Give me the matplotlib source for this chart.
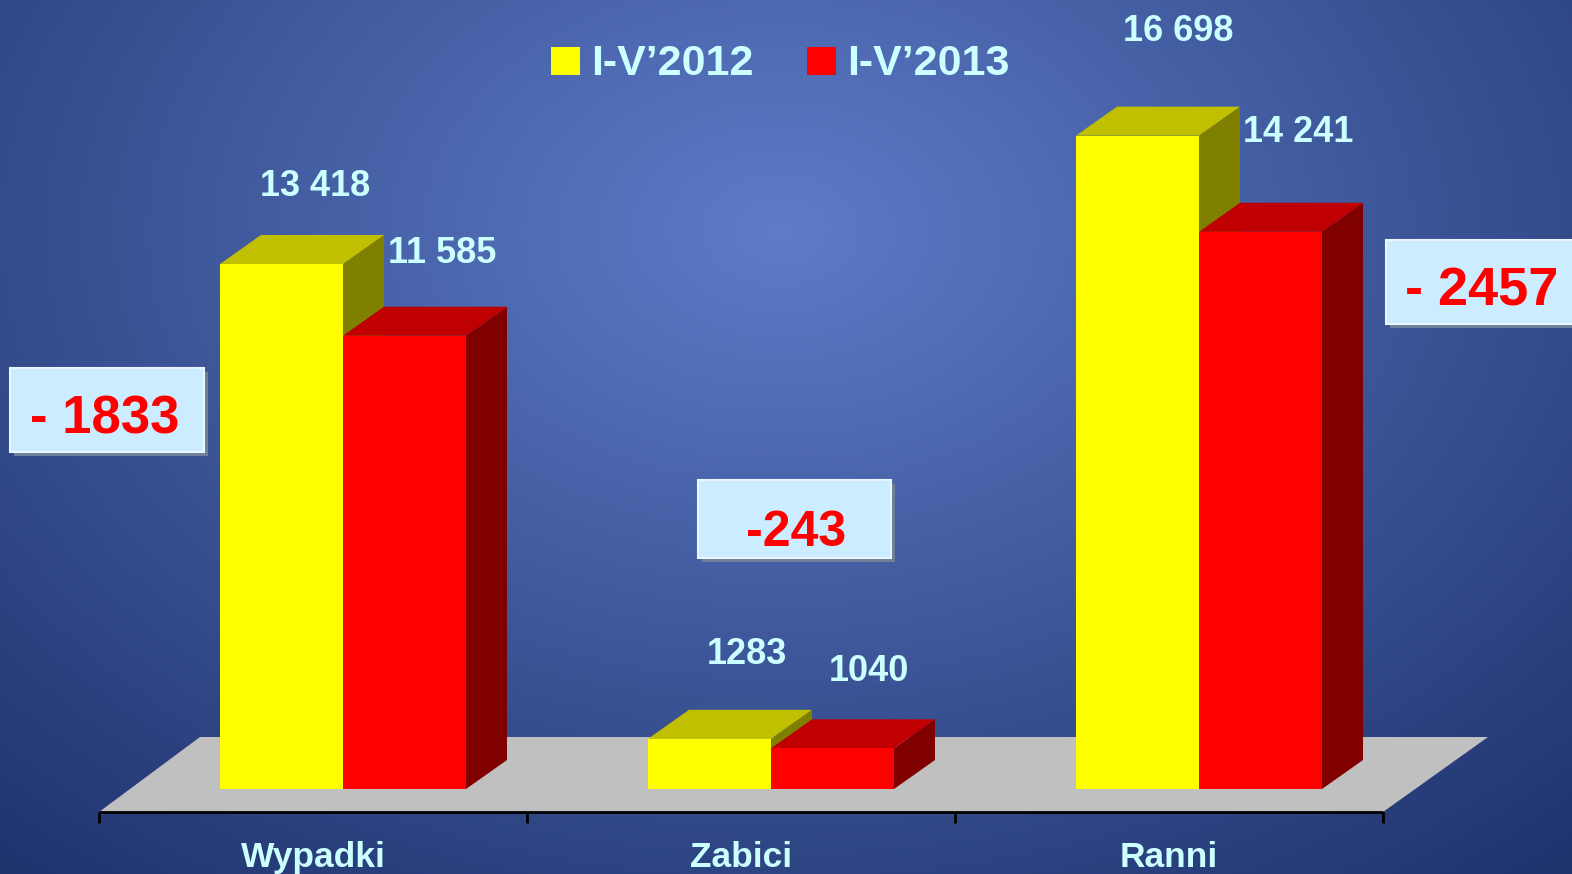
import numpy as np
import matplotlib
matplotlib.use("Agg")
import matplotlib.pyplot as plt
from matplotlib.patches import Polygon, Rectangle

# ---------------- data ----------------
categories = ["Wypadki", "Zabici", "Ranni"]
series_names = ["I-V\u20192012", "I-V\u20192013"]
values_2012 = [13418, 1283, 16698]
values_2013 = [11585, 1040, 14241]
labels_2012 = ["13 418", "1283", "16 698"]
labels_2013 = ["11 585", "1040", "14 241"]
diff_labels = ["- 1833", "-243", "- 2457"]

# ---------------- styling / geometry ----------------
W, H = 1572, 874
DPI = 100
PX_PER_UNIT = 0.039127          # vertical scale (pixels per value unit)
Y0_PX = 789                     # pixel row of value 0 (from top)
X0_PX, CAT_PX = 313, 428        # pixel x of category 0 and spacing

yel = dict(front="#FFFF00", top="#C0C000", side="#808000")
red = dict(front="#FF0000", top="#C00000", side="#800000")
label_col = "#CCFFFF"
FONT = "Liberation Sans"

fig = plt.figure(figsize=(W / DPI, H / DPI), dpi=DPI)
ax = fig.add_axes([0, 0, 1, 1])
ax.set_axis_off()

xlim = (-X0_PX / CAT_PX, (W - X0_PX) / CAT_PX)
ylim = (-(H - Y0_PX) / PX_PER_UNIT, Y0_PX / PX_PER_UNIT)

# background radial gradient
gx, gy = np.meshgrid(np.arange(W), np.arange(H))
t = np.sqrt(((gx - 780) / 1200.0) ** 2 + ((gy - 230) / 850.0) ** 2)
t = np.clip(t, 0, 1)[..., None]
c0 = np.array([94, 124, 200]) / 255.0
c1 = np.array([30, 50, 108]) / 255.0
img = c0 * (1 - t) + c1 * t
ax.imshow(img, extent=(0, 1, 0, 1), transform=ax.transAxes, aspect="auto",
          zorder=0, interpolation="bilinear")

ax.set_xlim(*xlim)
ax.set_ylim(*ylim)

# unit conversions for 3D offsets
def dxu(px):
    return px / CAT_PX

def dyu(px):
    return px / PX_PER_UNIT

# floor
floor_front = dyu(-23)
floor_back = dyu(52)
floor = Polygon([(-0.5, floor_front), (2.5, floor_front),
                 (2.5 + dxu(105), floor_back), (-0.5 + dxu(101), floor_back)],
                closed=True, facecolor="#C0C0C0", edgecolor="none", zorder=1)
ax.add_patch(floor)

# axis line with ticks
ax.plot([-0.5, 2.5], [floor_front, floor_front], color="black", lw=2,
        zorder=2, solid_capstyle="butt")
for tx in [-0.5, 0.5, 1.5, 2.5]:
    ax.plot([tx, tx], [floor_front, floor_front - dyu(11)], color="black",
            lw=2, zorder=2, solid_capstyle="butt")

# 3D bars
bw = dxu(123)
ddx, ddy = dxu(41), dyu(29)
shift = dxu(30)

def bar3d(x_left, h, cols, z):
    front = Rectangle((x_left, 0), bw, h, facecolor=cols["front"],
                      edgecolor="none", zorder=z)
    top = Polygon([(x_left, h), (x_left + bw, h), (x_left + bw + ddx, h + ddy),
                   (x_left + ddx, h + ddy)], closed=True,
                  facecolor=cols["top"], edgecolor="none", zorder=z)
    side = Polygon([(x_left + bw, 0), (x_left + bw + ddx, ddy),
                    (x_left + bw + ddx, h + ddy), (x_left + bw, h)], closed=True,
                   facecolor=cols["side"], edgecolor="none", zorder=z)
    for p in (side, top, front):
        ax.add_patch(p)

label_off_2012 = [(34, 68), (37, 75), (41, 95)]
label_off_2013 = [(38, 73), (36, 67), (38, 90)]

for i in range(len(categories)):
    xc = i + shift
    bar3d(xc - bw, values_2012[i], yel, 3 + i * 2)
    bar3d(xc, values_2013[i], red, 4 + i * 2)
    ax.annotate(labels_2012[i], xy=(xc - bw / 2, values_2012[i]),
                xytext=label_off_2012[i], textcoords="offset pixels",
                ha="center", va="baseline", fontsize=26, fontweight="bold",
                color=label_col, family=FONT, zorder=20)
    ax.annotate(labels_2013[i], xy=(xc + bw / 2, values_2013[i]),
                xytext=label_off_2013[i], textcoords="offset pixels",
                ha="center", va="baseline", fontsize=26, fontweight="bold",
                color=label_col, family=FONT, zorder=20)
    ax.annotate(categories[i], xy=(i, floor_front), xytext=(0, -55),
                textcoords="offset pixels", ha="center", va="baseline",
                fontsize=25.5, fontweight="bold", color=label_col, family=FONT,
                zorder=20)

# helpers in pixel coordinates (from top-left)
def fx(x):
    return x / W

def fy(y):
    return 1 - y / H

# legend
leg_items = [(551, series_names[0], yel["front"]), (807, series_names[1], red["front"])]
for x0, name, col in leg_items:
    fig.patches.append(Rectangle((fx(x0), fy(75)), 29 / W, 28 / H,
                                 transform=fig.transFigure, facecolor=col,
                                 edgecolor="none", zorder=30))
    fig.text(fx(x0 + 40), fy(75), name, ha="left", va="baseline",
             fontsize=31, fontweight="bold", color=label_col, family=FONT,
             zorder=30)

# difference callouts
boxes = [(10, 368, 194, 84, 105, 433, 38),
         (698, 480, 193, 78, 796, 546, 36),
         (1386, 240, 200, 84, 1482, 305, 39)]
for (bx, by, bwp, bhp, tx, ty, fs), txt in zip(boxes, diff_labels):
    shadow = Rectangle((fx(bx + 4), fy(by + bhp + 4)), bwp / W, bhp / H,
                       transform=fig.transFigure, facecolor="#6F7F96",
                       edgecolor="none", zorder=31)
    box = Rectangle((fx(bx), fy(by + bhp)), bwp / W, bhp / H,
                    transform=fig.transFigure, facecolor="#CCECFF",
                    edgecolor="#E8F6FF", lw=1.5, zorder=32)
    fig.patches.extend([shadow, box])
    fig.text(fx(tx), fy(ty), txt, ha="center", va="baseline", fontsize=fs,
             fontweight="bold", color="#FF0000", family=FONT, zorder=33)

fig.savefig("out.png", dpi=DPI)
